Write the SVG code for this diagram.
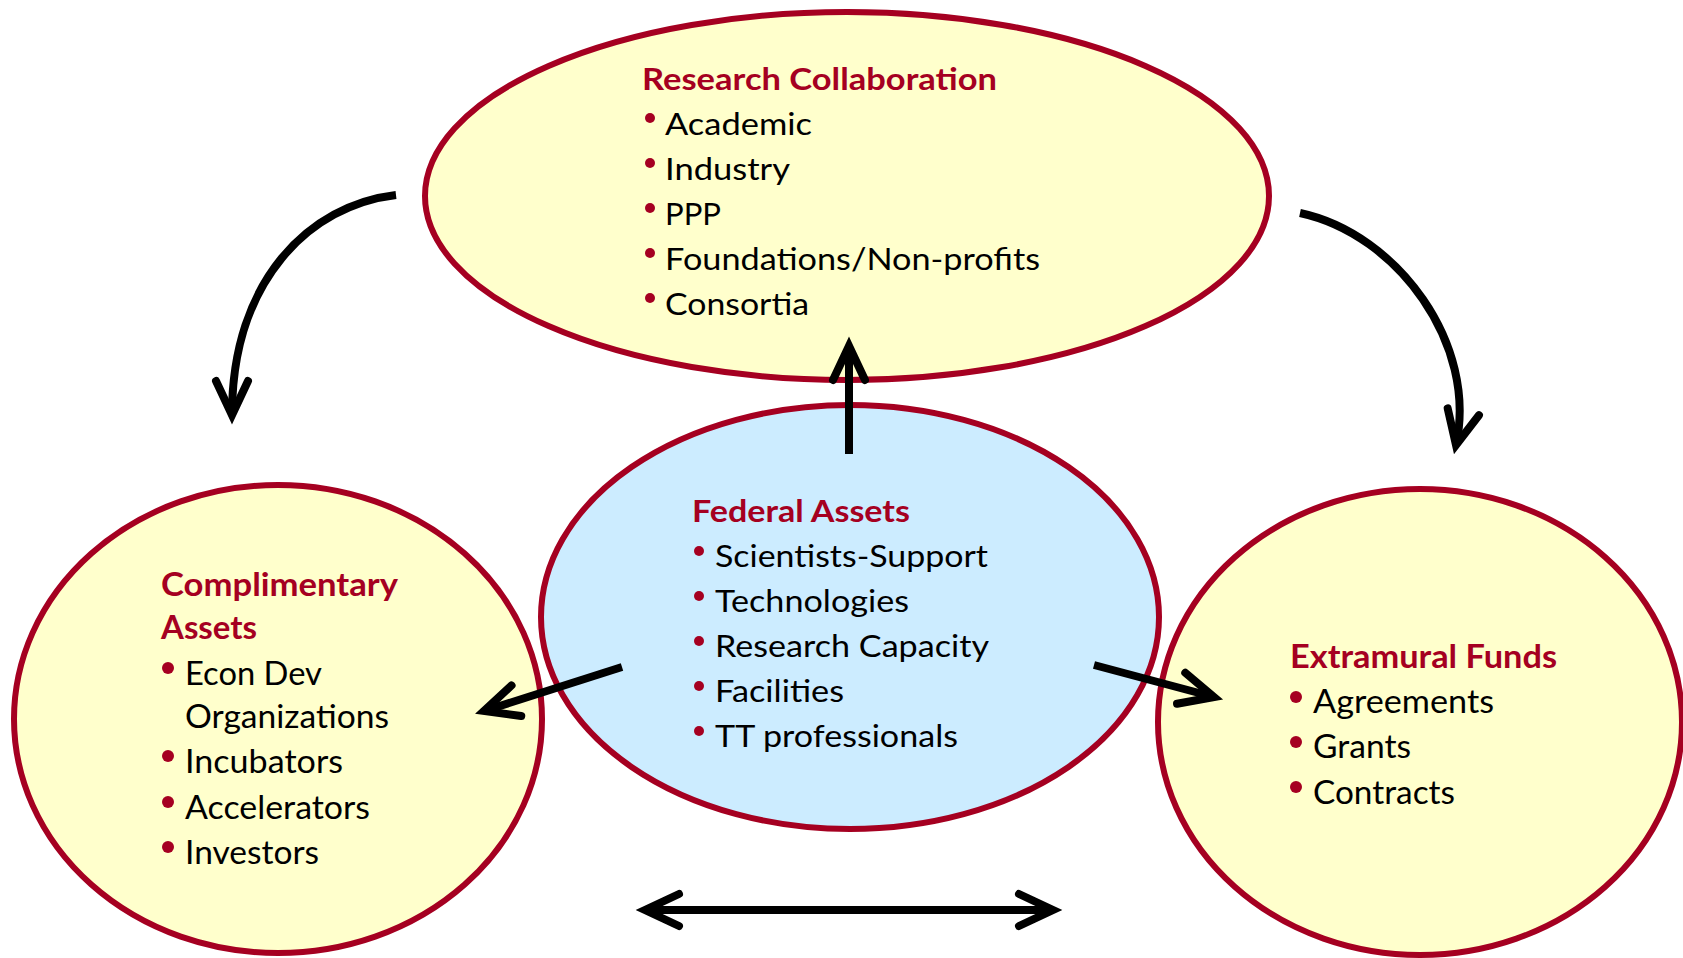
<svg xmlns="http://www.w3.org/2000/svg" width="1683" height="958" viewBox="0 0 1683 958">
  <style>
    .yellow { fill: #FFFFCC; stroke: #A50021; stroke-width: 6; }
    .blue { fill: #CCECFF; stroke: #A50021; stroke-width: 6; }
    .head { font-family: Lato, "Liberation Sans", sans-serif; font-weight: bold; fill: #A50021; }
    .item { font-family: Lato, "Liberation Sans", sans-serif; fill: #000000; }
    .n { font-size: 31px; }
    .w { font-size: 33px; }
    .dot { fill: #A50021; }
    .link { fill: none; stroke: #000000; stroke-width: 8; marker-end: url(#open); }
  </style>
  <defs>
    <!-- open chevron head; the path vertex sits on the line end, the mitred point reaches ~9.5px further -->
    <marker id="open" markerUnits="userSpaceOnUse" viewBox="-50 -25 65 50" markerWidth="65" markerHeight="50" refX="0" refY="0" orient="auto-start-reverse" overflow="visible">
      <path d="M-34,-16 L0,0 L-34,16" fill="none" stroke="#000000" stroke-width="8" stroke-linecap="round" stroke-linejoin="miter"/>
    </marker>
  </defs>

  <rect width="1683" height="958" fill="#FFFFFF"/>

  <!-- Research Collaboration -->
  <g id="research-collaboration">
    <ellipse class="yellow" cx="847" cy="196" rx="422" ry="184"/>
    <text class="head n" x="642" y="90" textLength="355" lengthAdjust="spacingAndGlyphs">Research Collaboration</text>
    <circle class="dot" cx="650" cy="118" r="5"/>
    <text class="item n" x="665" y="135" textLength="147" lengthAdjust="spacingAndGlyphs">Academic</text>
    <circle class="dot" cx="650" cy="163" r="5"/>
    <text class="item n" x="665" y="180" textLength="125" lengthAdjust="spacingAndGlyphs">Industry</text>
    <circle class="dot" cx="650" cy="208" r="5"/>
    <text class="item n" x="665" y="225" textLength="56" lengthAdjust="spacingAndGlyphs">PPP</text>
    <circle class="dot" cx="650" cy="253" r="5"/>
    <text class="item n" x="665" y="270" textLength="375" lengthAdjust="spacingAndGlyphs">Foundations/Non-profits</text>
    <circle class="dot" cx="650" cy="298" r="5"/>
    <text class="item n" x="665" y="315" textLength="144" lengthAdjust="spacingAndGlyphs">Consortia</text>
  </g>

  <!-- Complimentary Assets -->
  <g id="complimentary-assets">
    <ellipse class="yellow" cx="278" cy="719" rx="264" ry="234"/>
    <text class="head w" x="161" y="596" textLength="237" lengthAdjust="spacingAndGlyphs">Complimentary</text>
    <text class="head w" x="161" y="639" textLength="96" lengthAdjust="spacingAndGlyphs">Assets</text>
    <circle class="dot" cx="168" cy="668" r="6"/>
    <text class="item w" x="185" y="685" textLength="137" lengthAdjust="spacingAndGlyphs">Econ Dev</text>
    <text class="item w" x="185" y="728" textLength="204" lengthAdjust="spacingAndGlyphs">Organizations</text>
    <circle class="dot" cx="168" cy="756" r="6"/>
    <text class="item w" x="185" y="773" textLength="158" lengthAdjust="spacingAndGlyphs">Incubators</text>
    <circle class="dot" cx="168" cy="802" r="6"/>
    <text class="item w" x="185" y="819" textLength="185" lengthAdjust="spacingAndGlyphs">Accelerators</text>
    <circle class="dot" cx="168" cy="847" r="6"/>
    <text class="item w" x="185" y="864" textLength="134" lengthAdjust="spacingAndGlyphs">Investors</text>
  </g>

  <!-- Extramural Funds -->
  <g id="extramural-funds">
    <ellipse class="yellow" cx="1420" cy="722" rx="262" ry="233"/>
    <text class="head w" x="1290" y="668" textLength="267" lengthAdjust="spacingAndGlyphs">Extramural Funds</text>
    <circle class="dot" cx="1296" cy="697" r="6"/>
    <text class="item w" x="1313" y="713" textLength="181" lengthAdjust="spacingAndGlyphs">Agreements</text>
    <circle class="dot" cx="1296" cy="742" r="6"/>
    <text class="item w" x="1313" y="758" textLength="98" lengthAdjust="spacingAndGlyphs">Grants</text>
    <circle class="dot" cx="1296" cy="787" r="6"/>
    <text class="item w" x="1313" y="804" textLength="142" lengthAdjust="spacingAndGlyphs">Contracts</text>
  </g>

  <!-- Federal Assets -->
  <g id="federal-assets">
    <ellipse class="blue" cx="850" cy="617" rx="309" ry="212"/>
    <text class="head n" x="692" y="522" textLength="218" lengthAdjust="spacingAndGlyphs">Federal Assets</text>
    <circle class="dot" cx="699" cy="551" r="5"/>
    <text class="item n" x="715" y="567" textLength="273" lengthAdjust="spacingAndGlyphs">Scientists-Support</text>
    <circle class="dot" cx="699" cy="596" r="5"/>
    <text class="item n" x="715" y="612" textLength="194" lengthAdjust="spacingAndGlyphs">Technologies</text>
    <circle class="dot" cx="699" cy="641" r="5"/>
    <text class="item n" x="715" y="657" textLength="274" lengthAdjust="spacingAndGlyphs">Research Capacity</text>
    <circle class="dot" cx="699" cy="686" r="5"/>
    <text class="item n" x="715" y="702" textLength="129" lengthAdjust="spacingAndGlyphs">Facilities</text>
    <circle class="dot" cx="699" cy="731" r="5"/>
    <text class="item n" x="715" y="747" textLength="243" lengthAdjust="spacingAndGlyphs">TT professionals</text>
  </g>

  <!-- Connectors -->
  <g id="connectors">
    <path class="link" d="M396,195 C310,205 232,280 232,415"/>
    <path class="link" d="M1300,213 C1398,234 1478,345 1456,445"/>
    <path class="link" d="M849,454 L849,346"/>
    <path class="link" d="M622,667 L484,711"/>
    <path class="link" d="M1094,665 L1214,697"/>
    <path class="link" d="M645,910 L1053,910" style="marker-start: url(#open);"/>
  </g>
</svg>
